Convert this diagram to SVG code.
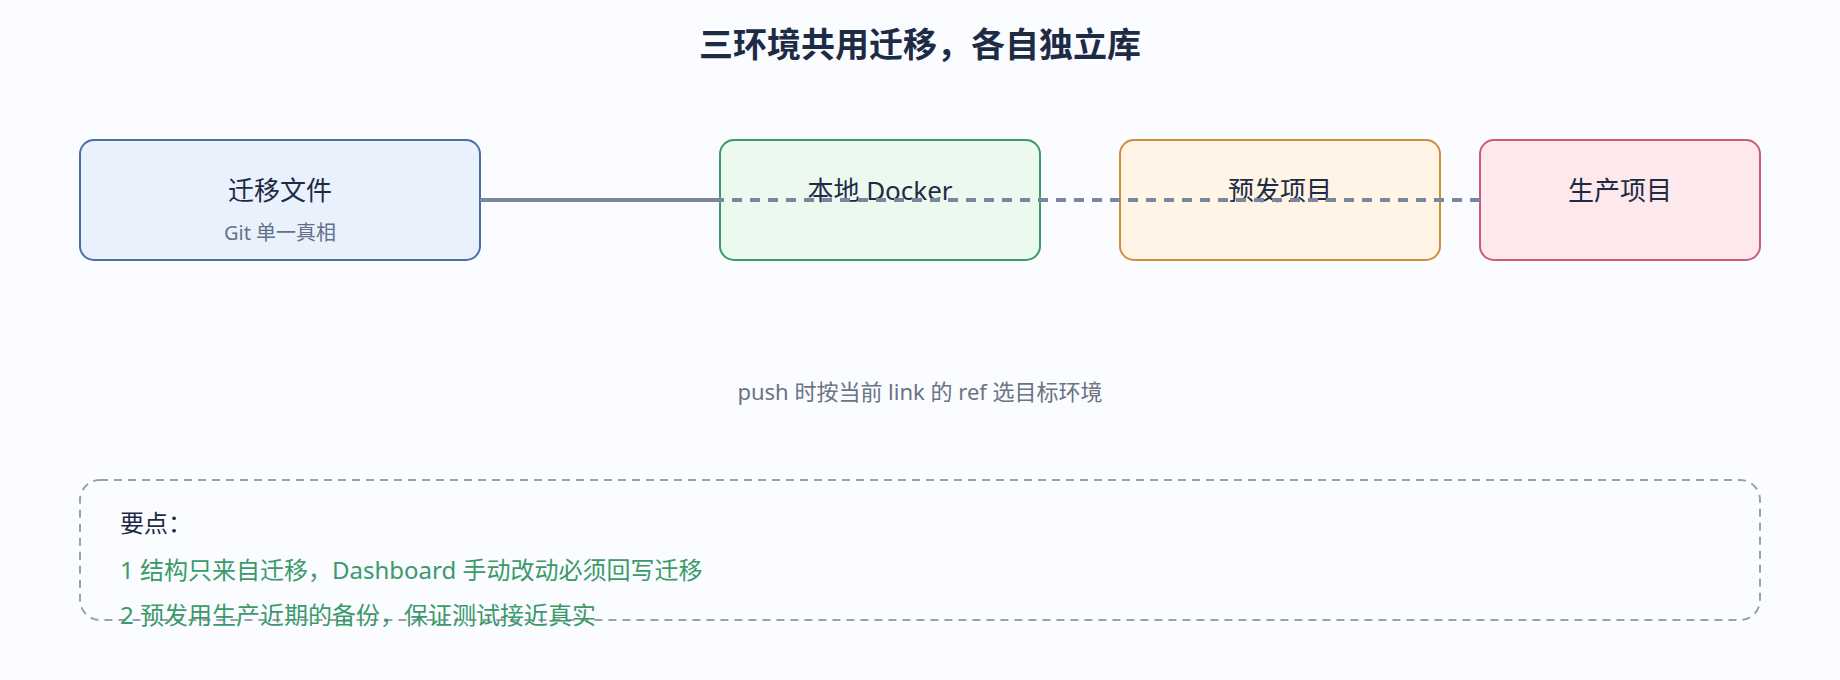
<svg xmlns="http://www.w3.org/2000/svg" width="1840" height="680" viewBox="0 0 1840 680">
  <style>
    text { font-family: "Noto Sans", "Noto Sans CJK SC", sans-serif; }
    .title { font-size: 34px; font-weight: 700; fill: #1e2b45; }
    .ntitle { font-size: 26px; fill: #1e2b45; }
    .nsub { font-size: 20px; fill: #64708a; }
    .note { font-size: 22px; fill: #6b7384; }
    .kp { font-size: 24px; fill: #1e2b45; }
    .kpg { font-size: 24px; fill: #3a9a6a; }
    .node rect { stroke-width: 2; }
    .conn line { stroke: #7b879e; stroke-width: 4; fill: none; }
    .dash { stroke-dasharray: 10 8; }
  </style>
  <rect x="0" y="0" width="1840" height="680" fill="#fafcff"/>
  <text class="title" x="920" y="57" text-anchor="middle">三环境共用迁移，各自独立库</text>

  <g id="node-migrations" class="node">
    <rect x="80" y="140" width="400" height="120" rx="14" fill="#e9f1fc" stroke="#4a6ea8"/>
    <text class="ntitle" x="280" y="200" text-anchor="middle">迁移文件</text>
    <text class="nsub" x="280" y="240" text-anchor="middle">Git 单一真相</text>
  </g>
  <g id="node-local" class="node">
    <rect x="720" y="140" width="320" height="120" rx="14" fill="#ebf9ef" stroke="#3a9a6a"/>
    <text class="ntitle" x="880" y="200" text-anchor="middle">本地 Docker</text>
  </g>
  <g id="node-staging" class="node">
    <rect x="1120" y="140" width="320" height="120" rx="14" fill="#fff4e6" stroke="#cc9038"/>
    <text class="ntitle" x="1280" y="200" text-anchor="middle">预发项目</text>
  </g>
  <g id="node-prod" class="node">
    <rect x="1480" y="140" width="280" height="120" rx="14" fill="#fde8ec" stroke="#cc5a78"/>
    <text class="ntitle" x="1620" y="200" text-anchor="middle">生产项目</text>
  </g>

  <g id="connectors" class="conn">
    <line class="dash" x1="480" y1="200" x2="1480" y2="200"/>
    <line class="dash" x1="480" y1="200" x2="1120" y2="200"/>
    <line x1="480" y1="200" x2="720" y2="200"/>
  </g>

  <text class="note" x="920" y="400" text-anchor="middle">push 时按当前 link 的 ref 选目标环境</text>

  <g id="keypoints">
    <rect x="80" y="480" width="1680" height="140" rx="20" fill="none" stroke="#9aa1ad" stroke-width="2" stroke-dasharray="8 6"/>
    <text class="kp" x="120" y="532">要点：</text>
    <text class="kpg" x="120" y="579">1 结构只来自迁移，Dashboard 手动改动必须回写迁移</text>
    <text class="kpg" x="120" y="624">2 预发用生产近期的备份，保证测试接近真实</text>
  </g>
</svg>
